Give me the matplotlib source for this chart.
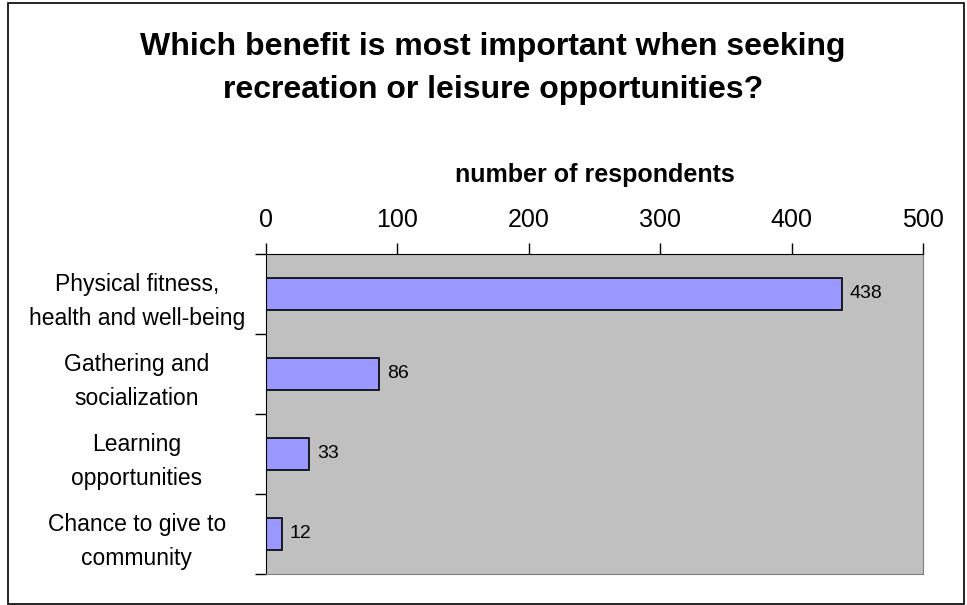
import matplotlib.pyplot as plt
from matplotlib.patches import Rectangle

# Dados
categorias = ["Physical fitness,\nhealth and well-being",
              "Gathering and\nsocialization",
              "Learning\nopportunities",
              "Chance to give to\ncommunity"]
valores = [438, 86, 33, 12]
ticks_x = [0, 100, 200, 300, 400, 500]

plt.rcParams['font.family'] = ['Liberation Sans', 'DejaVu Sans']

fig = plt.figure(figsize=(9.67, 6.05), dpi=100)
fig.patches.append(Rectangle((8/967, 1/605), 956/967, 601/605, transform=fig.transFigure,
                             fill=False, edgecolor='black', linewidth=1.2))

ax = fig.add_axes([266/967, 31/605, 657/967, 320/605])
ax.set_facecolor('#C0C0C0')

pos = list(range(len(categorias)))
ax.barh(pos, valores, height=0.4, color='#9999FF', edgecolor='black', linewidth=1.2)
for p, v in zip(pos, valores):
    ax.text(v + 6, p, str(v), va='center', ha='left', fontsize=14)

ax.set_xlim(0, 500)
ax.set_ylim(3.5, -0.5)
ax.xaxis.tick_top()
ax.set_xticks(ticks_x)
ax.set_xticklabels([str(t) for t in ticks_x], fontsize=18)
ax.tick_params(axis='x', direction='out', length=8, width=1, pad=8)

ax.set_yticks([-0.5, 0.5, 1.5, 2.5, 3.5])
ax.set_yticklabels([])
ax.set_yticks(pos, minor=True)
ax.set_yticklabels(categorias, minor=True, fontsize=16.5, ha='center', linespacing=1.6)
ax.tick_params(axis='y', which='major', direction='out', length=8, width=1)
ax.tick_params(axis='y', which='minor', length=0, pad=93)

ax.spines['left'].set_color('black')
ax.spines['top'].set_color('black')
ax.spines['right'].set_color('#808080')
ax.spines['bottom'].set_color('#808080')

ax.set_title("number of respondents", fontsize=18, fontweight='bold', pad=52)

fig.text(0.51, 0.887, "Which benefit is most important when seeking\nrecreation or leisure opportunities?",
         ha='center', va='center', fontsize=23, fontweight='bold', linespacing=1.55)

plt.savefig("out.png", dpi=100)
